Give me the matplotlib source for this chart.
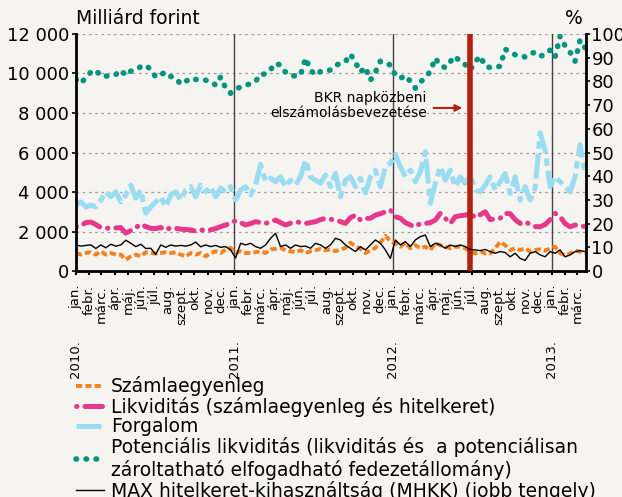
import pandas as pd
import matplotlib
matplotlib.use('Agg')
import matplotlib.pyplot as plt
from matplotlib.lines import Line2D

plt.rcParams['font.family'] = ['DejaVu Sans']

# values, one every ~11.5 days from 2010-01-01
szamla = [910, 830, 910, 950, 830, 1000, 830, 910, 830, 830,
          570, 740, 830, 740, 950, 910, 880, 910, 950, 910,
          950, 830, 740, 910, 830, 910, 740, 910, 1000, 910,
          1090, 1170, 910, 1000, 910, 910, 950, 1000, 910, 1090,
          1120, 1170, 1050, 1000, 950, 1050, 910, 1000, 1050, 1120,
          1050, 1090, 1000, 1090, 1170, 1430, 1260, 1120, 910, 1050,
          1170, 1430, 1780, 1520, 1400, 1230, 1430, 1150, 1310, 1150,
          1230, 1060, 1400, 1310, 1230, 1150, 1230, 1230, 1150, 980,
          890, 980, 890, 890, 1150, 1480, 1310, 1060, 1150, 1060,
          1150, 980, 1060, 1100, 1030, 1150, 1230, 890, 810, 890,
          1030, 980, 890]

likvid = [2240, 2300, 2450, 2480, 2350, 2200, 2170, 2160, 2180, 2200,
          1920, 2050, 2200, 2370, 2250, 2160, 2150, 2200, 2070, 2200,
          2160, 2120, 2100, 2080, 2020, 2060, 2100, 2080, 2150, 2250,
          2330, 2420, 2550, 2450, 2330, 2400, 2500, 2450, 2410, 2500,
          2580, 2450, 2330, 2420, 2500, 2450, 2410, 2450, 2500, 2600,
          2670, 2620, 2580, 2500, 2410, 2700, 2830, 2580, 2670, 2670,
          2830, 2900, 3000, 3090, 2750, 2670, 2450, 2330, 2240, 2410,
          2410, 2450, 2580, 2920, 2670, 2410, 2750, 2800, 2830, 2920,
          2700, 2850, 3000, 2600, 2650, 2670, 2920, 2900, 2600, 2410,
          2500, 2350, 2250, 2240, 2350, 2600, 2920, 2750, 2400, 2240,
          2330, 2300, 2240]

forgalom = [3340, 3500, 3240, 3340, 3240, 3590, 4010, 3760, 4010, 3500,
            3850, 4350, 3690, 4100, 2930, 3250, 3500, 3760, 3250, 3850,
            4010, 3590, 4100, 4270, 3760, 4350, 4010, 4270, 3760, 4200,
            4010, 4270, 3600, 4100, 4270, 3850, 4350, 5400, 4520, 4700,
            4520, 4770, 4270, 4600, 4350, 4770, 5620, 4770, 4600, 4450,
            4860, 4270, 4950, 3760, 4600, 4770, 4270, 4700, 3950, 4770,
            5110, 4270, 5280, 5460, 5900, 5280, 4770, 5110, 4520, 5020,
            6040, 3430, 4440, 5280, 4600, 5110, 4270, 4770, 4440, 4860,
            4100, 4010, 4350, 4770, 4100, 4520, 4940, 3930, 4770, 3590,
            4270, 3590, 4180, 7000, 6120, 4270, 4770, 4520, 4270, 4010,
            4770, 6400, 4940]

potencialis = [9700, 9500, 9800, 10070, 10170, 9870, 9870, 9880, 9950, 10170,
               9900, 10120, 10170, 10350, 10420, 10200, 9820, 9950, 10070, 9850,
               9770, 9460, 9600, 9770, 9700, 9660, 9660, 9600, 9410, 9820,
               9260, 9000, 9200, 9320, 9380, 9500, 9600, 9970, 9970, 10200,
               10520, 10420, 10070, 9900, 9870, 9920, 10780, 10170, 9920, 10100,
               10170, 10170, 10400, 10520, 10600, 10980, 10570, 10070, 10320, 9660,
               10070, 10620, 10570, 10420, 9920, 9750, 9900, 9600, 9260, 9560,
               9800, 10100, 10780, 10400, 10300, 10600, 10880, 10570, 10450, 10170,
               10600, 10880, 10370, 10300, 10300, 10370, 11230, 11080, 10950, 10930,
               10830, 11000, 11080, 10880, 10950, 11180, 10830, 11890, 11400, 11080,
               10620, 11690, 11300]

# MHKK, percent (right axis)
mhkk = [11.0, 10.5, 10.8, 11.0, 9.5, 11.0, 9.8, 11.3, 10.5, 11.0,
        13.0, 11.7, 10.3, 11.3, 9.5, 9.6, 7.0, 11.0, 10.0, 11.0,
        10.5, 10.8, 10.5, 11.0, 12.2, 10.2, 11.0, 10.3, 10.8, 10.0,
        10.3, 8.9, 5.5, 11.7, 11.0, 11.7, 10.3, 9.6, 11.0, 13.8,
        15.9, 10.3, 11.0, 9.6, 11.0, 10.3, 10.5, 9.6, 11.7, 11.0,
        9.6, 11.0, 13.8, 13.1, 11.0, 9.6, 8.2, 10.3, 8.9, 11.0,
        13.1, 11.7, 8.9, 5.3, 13.1, 11.0, 12.4, 10.3, 13.1, 14.5,
        15.2, 10.3, 11.7, 11.0, 9.6, 11.0, 10.3, 11.0, 10.3, 9.1,
        8.9, 8.6, 9.1, 8.2, 7.5, 8.2, 7.8, 6.0, 7.5, 5.3,
        4.5, 7.5, 8.2, 6.8, 6.0, 8.2, 7.5, 8.9, 6.0, 6.8,
        8.2, 8.6, 8.2]

honapok = ['jan.', 'febr.', 'márc.', 'ápr.', 'máj.', 'jún.', 'júl.',
           'aug.', 'szept.', 'okt.', 'nov.', 'dec.']
evek = ['2010.', '2011.', '2012.', '2013.']

dates = pd.date_range('2010-01-01', periods=len(potencialis), freq='276h')

bg = '#F5F4F1'
c_or = '#F5821F'
c_pink = '#E6398C'
c_blue = '#9ADCF1'
c_teal = '#00937E'

fig = plt.figure(figsize=(6.22, 4.97), dpi=100)
fig.patch.set_facecolor(bg)
ax = fig.add_axes([0.122, 0.4547, 0.82, 0.4769])
ax.set_facecolor(bg)
ax2 = ax.twinx()

st_or = dict(color=c_or, lw=2.8, ls=(0, (1.6, 0.8)))
st_pink = dict(color=c_pink, lw=3.6, ls=(0, (0.1, 1.6, 3.5, 1.6)), dash_capstyle='round')
st_blue = dict(color=c_blue, lw=3.6, ls=(0, (5, 1, 1.5, 1)))
st_teal = dict(color=c_teal, lw=4.0, ls=(0, (0.1, 1.7)), dash_capstyle='round')
st_blk = dict(color='black', lw=1.0)

ax.plot(dates, forgalom, **st_blue)
ax.plot(dates, likvid, **st_pink)
ax.plot(dates, szamla, **st_or)
ax.plot(dates, potencialis, **st_teal)
ax2.plot(dates, mhkk, **st_blk)

for ev in ['2011-01-01', '2012-01-01', '2013-01-01']:
    ax.axvline(pd.Timestamp(ev), color='#444444', lw=1, zorder=1)
ax.axvline(pd.Timestamp('2012-06-26'), color='#B5200F', lw=4, zorder=5)

ax.set_xlim(pd.Timestamp('2010-01-01'), pd.Timestamp('2013-03-21'))
ax.set_ylim(0, 12000)
ax2.set_ylim(0, 100)
ax.set_yticks(range(0, 12001, 2000))
ax.set_yticklabels([f'{v:,}'.replace(',', ' ') for v in range(0, 12001, 2000)])
ax2.set_yticks(range(0, 101, 10))
ax.yaxis.grid(True, ls=(0, (2, 3)), color='#999999', lw=0.9)
ax.set_axisbelow(True)

ticks = pd.date_range('2010-01-01', '2013-03-01', freq='MS')
ax.set_xticks(ticks)
ax.set_xticklabels([honapok[t.month - 1] for t in ticks], rotation=90,
                   fontsize=9.5, va='top', ha='center')
for i, ev in enumerate(evek):
    ax.text(pd.Timestamp(f'{2010 + i}-01-01'), -0.29, ev, rotation=90,
            ha='center', va='top', fontsize=9.5,
            transform=ax.get_xaxis_transform())

for a in (ax, ax2):
    a.spines['top'].set_visible(False)
ax.spines['right'].set_visible(False)
ax2.spines['left'].set_visible(False)
ax.spines['left'].set_linewidth(2)
ax.spines['bottom'].set_linewidth(2)
ax2.spines['right'].set_linewidth(2)
ax.tick_params(axis='y', labelsize=13, length=3, width=1.2, pad=2)
ax2.tick_params(axis='y', labelsize=13, length=3, width=1.2, pad=1)
ax.tick_params(axis='x', length=3, width=1.5, pad=7)

fig.text(76 / 622, 1 - 18 / 497, 'Milliárd forint', fontsize=13.5, va='center')
fig.text(583 / 622, 1 - 18 / 497, '%', fontsize=13.5, va='center', ha='right')

ax.text(0.688, 0.698, 'BKR napközbeni\nelszámolásbevezetése', transform=ax.transAxes,
        ha='right', va='center', fontsize=10, linespacing=1.15)
ax.annotate('', xy=(0.763, 0.688), xytext=(0.696, 0.688), xycoords='axes fraction',
            arrowprops=dict(arrowstyle='-|>', color='#B5200F', lw=1.5,
                            mutation_scale=10))

handles = [Line2D([], [], **st_or), Line2D([], [], **st_pink),
           Line2D([], [], **st_blue), Line2D([], [], **st_teal),
           Line2D([], [], **st_blk)]
labels = ['Számlaegyenleg', 'Likviditás (számlaegyenleg és hitelkeret)', 'Forgalom',
          'Potenciális likviditás (likviditás és  a potenciálisan\nzároltatható elfogadható fedezetállomány)',
          'MAX hitelkeret-kihasználtság (MHKK) (jobb tengely)']
fig.legend(handles, labels, loc='upper left', bbox_to_anchor=(0.122, 0.243),
           frameon=False, fontsize=13.5, handlelength=1.5, handletextpad=0.37,
           labelspacing=0.03, borderpad=0, borderaxespad=0)

fig.savefig('out.png', dpi=100, facecolor=bg)
